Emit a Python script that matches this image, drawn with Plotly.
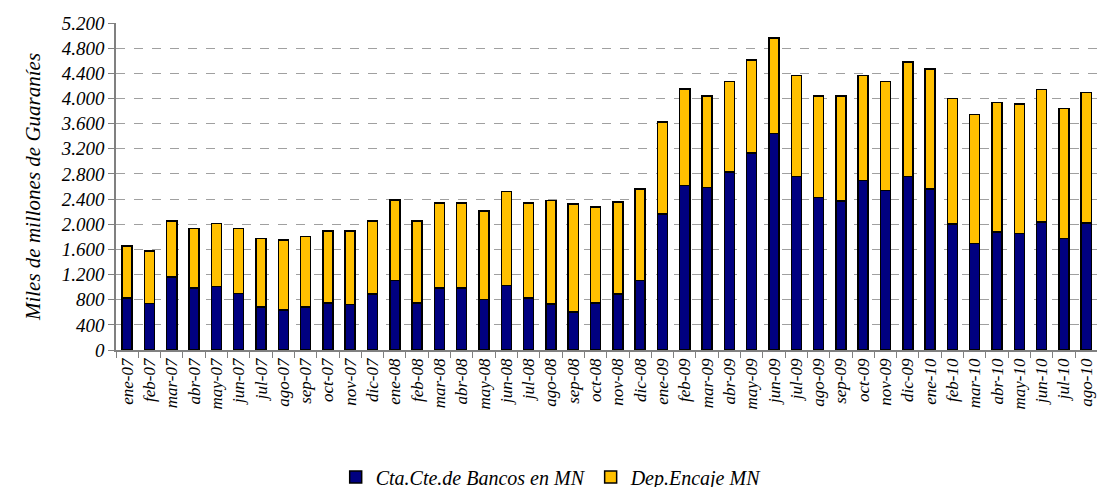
import plotly.graph_objects as go

MONTHS = ['ene-07', 'feb-07', 'mar-07', 'abr-07', 'may-07', 'jun-07', 'jul-07', 'ago-07',
          'sep-07', 'oct-07', 'nov-07', 'dic-07',
          'ene-08', 'feb-08', 'mar-08', 'abr-08', 'may-08', 'jun-08', 'jul-08', 'ago-08',
          'sep-08', 'oct-08', 'nov-08', 'dic-08',
          'ene-09', 'feb-09', 'mar-09', 'abr-09', 'may-09', 'jun-09', 'jul-09', 'ago-09',
          'sep-09', 'oct-09', 'nov-09', 'dic-09',
          'ene-10', 'feb-10', 'mar-10', 'abr-10', 'may-10', 'jun-10', 'jul-10', 'ago-10',
          'sep-10']

# Cta.Cte. de Bancos en MN (bottom, navy)
CTA_CTE = [827, 736, 1157, 987, 1013, 896, 683, 640, 683, 747, 720, 891,
           1109, 747, 987, 987, 800, 1029, 827, 731, 603, 747, 891, 1109,
           2160, 2613, 2587, 2827, 3131, 3440, 2757, 2427, 2373, 2693, 2533, 2757,
           2560, 2000, 1691, 1877, 1851, 2037, 1771, 2016, 1900]

# total height of each bar (read from the top edges)
TOTAL = [1653, 1573, 2053, 1931, 2011, 1931, 1771, 1749, 1803, 1893, 1893, 2053,
         2384, 2053, 2336, 2336, 2213, 2517, 2336, 2379, 2320, 2277, 2357, 2560,
         3627, 4149, 4043, 4267, 4613, 4960, 4363, 4037, 4037, 4363, 4267, 4576,
         4469, 4000, 3749, 3936, 3909, 4144, 3840, 4096, 3904]

# Dep. Encaje MN (top, yellow)
DEP_ENCAJE = [t - c for t, c in zip(TOTAL, CTA_CTE)]

Y_TICKS = list(range(0, 5201, 400))

FONT = dict(family='Liberation Serif', color='black', style='italic')

fig = go.Figure()
fig.add_trace(go.Bar(x=MONTHS, y=CTA_CTE, name='Cta.Cte.de Bancos en MN',
                     marker=dict(color='#000080', line=dict(color='black', width=1.5))))
fig.add_trace(go.Bar(x=MONTHS, y=DEP_ENCAJE, name='Dep.Encaje MN',
                     marker=dict(color='#FFC000', line=dict(color='black', width=1.5))))

# the page puts the figure ~8px in from the corner, margins account for that;
# the right end runs past the window so the last month is cut like the original
fig.update_layout(
    width=1105, height=487,
    barmode='stack', bargap=0.55,
    separators=',.',
    plot_bgcolor='white', paper_bgcolor='white',
    margin=dict(l=108, r=0, t=15, b=145, autoexpand=False),
    font=dict(size=15, **FONT),
    legend=dict(orientation='h', x=0.437, xanchor='center', y=-0.388, yanchor='middle',
                traceorder='normal', font=dict(size=20, **FONT), itemwidth=30),
    showlegend=True,
)

fig.update_xaxes(
    type='category', range=[-0.5, 44.2], automargin=False,
    tickangle=-90, tickfont=dict(size=17, **FONT),
    showline=True, linecolor='#808080', linewidth=1.5,
    ticks='outside', tickson='boundaries', ticklen=6, tickcolor='#808080',
    showgrid=False,
)
fig.update_yaxes(
    range=[0, 5200], tickvals=Y_TICKS, tickformat=',.0f', automargin=False,
    tickfont=dict(size=19, **FONT),
    showline=True, linecolor='#808080', linewidth=1.5,
    ticks='outside', ticklen=6, tickcolor='#808080',
    showgrid=True, gridcolor='#a0a0a0', griddash='dash', gridwidth=1,
    zeroline=False,
    title=dict(text='Miles de millones de Guaraníes', font=dict(size=21, **FONT), standoff=14),
)

fig.write_html("out.html")
